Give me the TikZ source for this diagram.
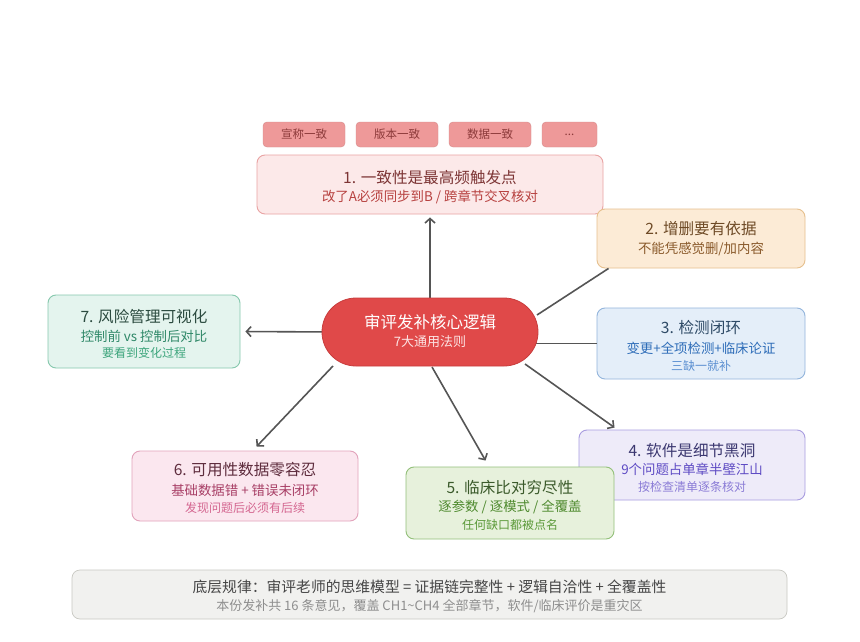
\documentclass[tikz,border=0pt]{standalone}
\usepackage{fontspec}
\setmainfont{Noto Sans CJK SC}
\usetikzlibrary{arrows.meta,calc}
\definecolor{tagfill}{HTML}{EE9999}
\definecolor{tagtext}{HTML}{8C3A3A}
\definecolor{aF}{HTML}{FCE9E9}\definecolor{aD}{HTML}{E9A3A3}\definecolor{aT}{HTML}{7D3535}\definecolor{aS}{HTML}{B7413F}
\definecolor{bF}{HTML}{FCEBD6}\definecolor{bD}{HTML}{E6C08E}\definecolor{bT}{HTML}{6E4A26}\definecolor{bS}{HTML}{8A5A2B}
\definecolor{cF}{HTML}{E4EEF9}\definecolor{cD}{HTML}{93B5DC}\definecolor{cT}{HTML}{2E4A66}\definecolor{cS}{HTML}{2D6CB8}\definecolor{cU}{HTML}{5B8FD1}
\definecolor{dF}{HTML}{EEEBF9}\definecolor{dD}{HTML}{A99DE0}\definecolor{dT}{HTML}{3B3770}\definecolor{dS}{HTML}{5E4BC4}\definecolor{dU}{HTML}{8A7BD6}
\definecolor{eF}{HTML}{E7F1DC}\definecolor{eD}{HTML}{93C07A}\definecolor{eT}{HTML}{3B5A2B}\definecolor{eS}{HTML}{4E8A2E}\definecolor{eU}{HTML}{5C9A3A}
\definecolor{fF}{HTML}{FBE7EF}\definecolor{fD}{HTML}{E2A3BB}\definecolor{fT}{HTML}{5E2C3D}\definecolor{fS}{HTML}{A83F66}\definecolor{fU}{HTML}{D46690}
\definecolor{gF}{HTML}{E4F4EE}\definecolor{gD}{HTML}{86C8AD}\definecolor{gT}{HTML}{2B4A3F}\definecolor{gS}{HTML}{2F8868}\definecolor{gU}{HTML}{3DA57C}
\definecolor{mF}{HTML}{E04949}\definecolor{mD}{HTML}{C83C3C}\definecolor{mS}{HTML}{FCE3E3}
\definecolor{zF}{HTML}{F1F1EF}\definecolor{zD}{HTML}{C9C9C3}\definecolor{zT}{HTML}{454545}\definecolor{zS}{HTML}{8E8E8E}
\definecolor{conn}{HTML}{555555}
\tikzset{
  box/.style={draw, rounded corners=8pt, line width=0.9pt, inner sep=0pt},
  tagbox/.style={fill=tagfill, draw=tagfill!90!black, line width=0.4pt, rounded corners=4pt, inner sep=0pt, minimum height=25pt, text=tagtext, font=\fontsize{11.5}{13}\selectfont},
  ttl/.style={inner sep=0pt, font=\fontsize{15.6}{18}\selectfont},
  sub/.style={inner sep=0pt, font=\fontsize{13.4}{15}\selectfont},
  thd/.style={inner sep=0pt, font=\fontsize{12}{14}\selectfont},
  link/.style={draw=conn, line width=1.6pt},
  arr/.style={link, -{Straight Barb[length=4.5pt,width=10pt,line width=1.6pt]}},
}
\begin{document}
\begin{tikzpicture}[x=1pt,y=-1pt]
\path[use as bounding box, fill=white] (0,0) rectangle (860,642);

% tags
\node[tagbox, minimum width=82pt] (t1) at (304,134.5) {宣称一致};
\node[tagbox, minimum width=82pt] (t2) at (397,134.5) {版本一致};
\node[tagbox, minimum width=82pt] (t3) at (490,134.5) {数据一致};
\node[tagbox, minimum width=55pt] (t4) at (569.5,134.5) {...};

% box 1
\node[box, fill=aF, draw=aD, minimum width=346pt, minimum height=59pt] (b1) at (430,184.5) {};
\node[ttl, text=aT] (b1a) at (430,178) {1. 一致性是最高频触发点};
\node[sub, text=aS] (b1b) at (430,197) {改了A必须同步到B / 跨章节交叉核对};

% box 2
\node[box, fill=bF, draw=bD, minimum width=208pt, minimum height=59pt] (b2) at (701,238.5) {};
\node[ttl, text=bT] (b2a) at (701,229) {2. 增删要有依据};
\node[sub, text=bS] (b2b) at (701,249) {不能凭感觉删/加内容};

% box 3
\node[box, fill=cF, draw=cD, minimum width=208pt, minimum height=71pt] (b3) at (701,343.5) {};
\node[ttl, text=cT] (b3a) at (701,328) {3. 检测闭环};
\node[sub, text=cS] (b3b) at (701,348) {变更+全项检测+临床论证};
\node[thd, text=cU] (b3c) at (701,366) {三缺一就补};

% box 4
\node[box, fill=dF, draw=dD, minimum width=226pt, minimum height=70pt] (b4) at (692,465) {};
\node[ttl, text=dT] (b4a) at (692,451) {4. 软件是细节黑洞};
\node[sub, text=dS] (b4b) at (692,469) {9个问题占单章半壁江山};
\node[thd, text=dU] (b4c) at (692,487) {按检查清单逐条核对};

% box 5
\node[box, fill=eF, draw=eD, minimum width=208pt, minimum height=72pt] (b5) at (510,503) {};
\node[ttl, text=eT] (b5a) at (510,488) {5. 临床比对穷尽性};
\node[sub, text=eS] (b5b) at (510,507) {逐参数 / 逐模式 / 全覆盖};
\node[thd, text=eU] (b5c) at (510,525) {任何缺口都被点名};

% box 6
\node[box, fill=fF, draw=fD, minimum width=226pt, minimum height=70pt] (b6) at (245,486) {};
\node[ttl, text=fT] (b6a) at (245,470) {6. 可用性数据零容忍};
\node[sub, text=fS] (b6b) at (245,490) {基础数据错 + 错误未闭环};
\node[thd, text=fU] (b6c) at (245,508) {发现问题后必须有后续};

% box 7
\node[box, fill=gF, draw=gD, minimum width=192pt, minimum height=73pt] (b7) at (144,331.5) {};
\node[ttl, text=gT] (b7a) at (144,317) {7. 风险管理可视化};
\node[sub, text=gS] (b7b) at (144,336) {控制前 vs 控制后对比};
\node[thd, text=gU] (b7c) at (144,353) {要看到变化过程};

% connectors (under centre node)
\coordinate (s2) at (537,315);
\coordinate (s3) at (530,343.5);
\coordinate (s4) at (525,364);
\coordinate (s5) at (432,367);
\coordinate (s6) at (333,366);
\coordinate (s7) at (333,332);
\draw[arr, shorten >=3pt] (430,320) coordinate (s1) -- (b1.south);
\draw[link] (s2) -- ($(b2.south west)+(12,0)$);
\draw[link] (s3) -- (b3.west);
\draw[arr] (s4) -- ($(b4.north west)+(36,-2)$);
\draw[arr] (s5) -- ($(b5.north west)+(80,-6)$);
\draw[arr] (s6) -- ($(b6.north west)+(125,-4)$);
\draw[arr, shorten >=5pt] (s7) -- (b7.east);

% centre
\node[fill=mF, draw=mD, line width=0.8pt, rounded corners=34pt, minimum width=216pt, minimum height=68pt, inner sep=0pt] (c) at (430,332) {};
\node[inner sep=0pt, text=white, font=\fontsize{16.5}{19}\selectfont] (ca) at (430,322) {审评发补核心逻辑};
\node[inner sep=0pt, text=mS, font=\fontsize{13}{15}\selectfont] (cb) at (430,342) {7大通用法则};

% bottom
\node[box, fill=zF, draw=zD, line width=0.7pt, minimum width=715pt, minimum height=49pt] (z) at (429.5,594.5) {};
\node[inner sep=0pt, text=zT, font=\fontsize{14.8}{17}\selectfont] (za) at (429.5,587) {底层规律：审评老师的思维模型 = 证据链完整性 + 逻辑自洽性 + 全覆盖性};
\node[inner sep=0pt, text=zS, font=\fontsize{13}{15}\selectfont] (zb) at (429.5,606) {本份发补共 16 条意见，覆盖 CH1\textasciitilde CH4 全部章节，软件/临床评价是重灾区};
\end{tikzpicture}
\end{document}
